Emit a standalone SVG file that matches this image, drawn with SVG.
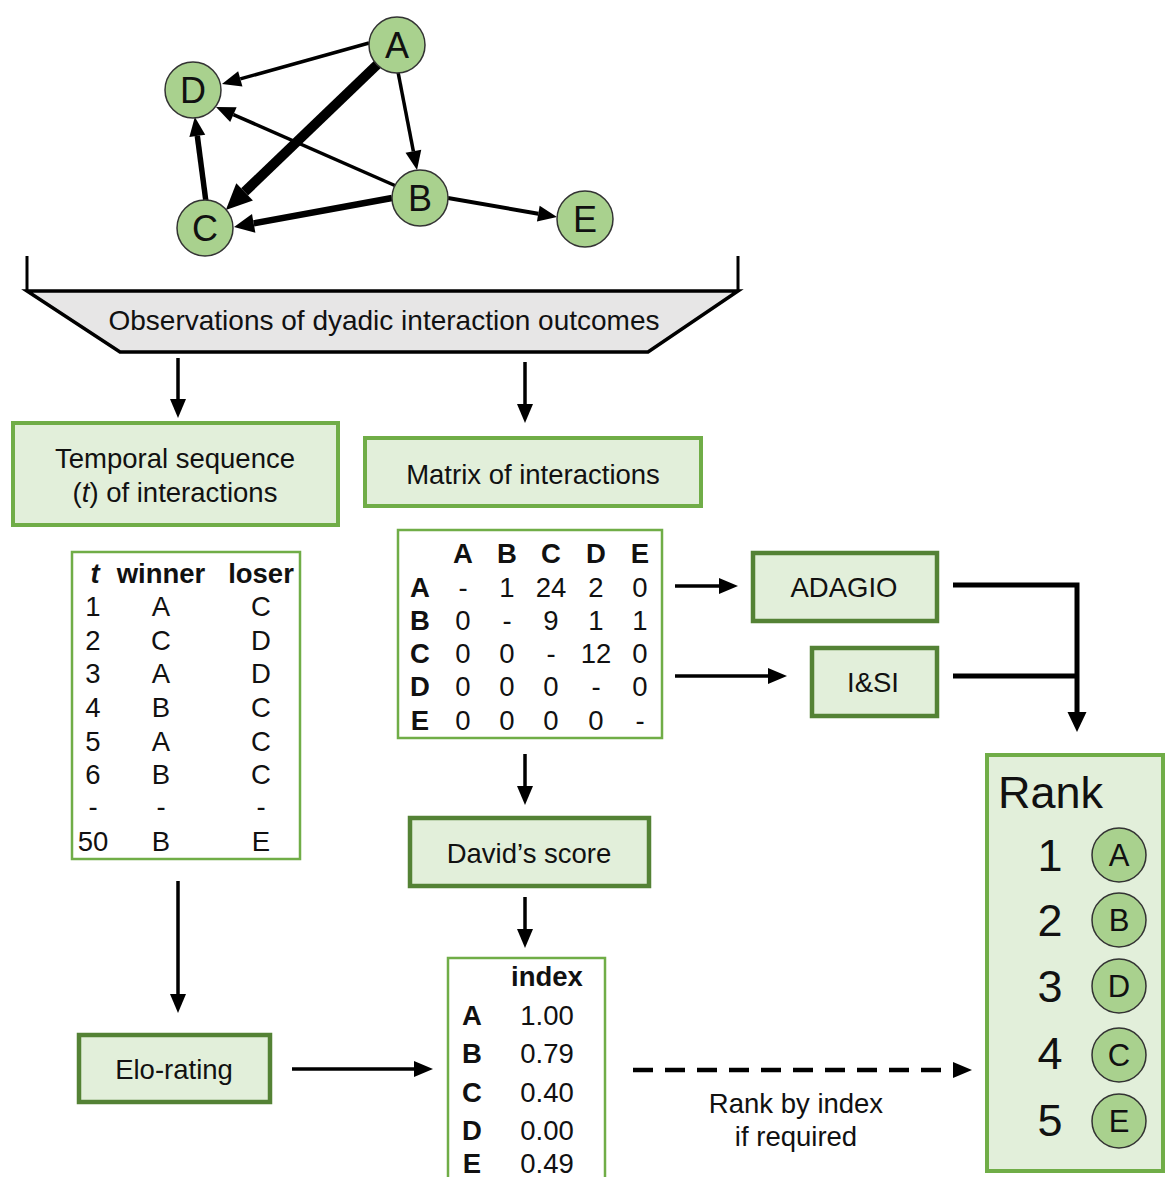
<svg xmlns="http://www.w3.org/2000/svg" width="1166" height="1177" viewBox="0 0 1166 1177">
  <style>
    text { font-family: "Liberation Sans", Arial, sans-serif; fill: #111; }
    .t { font-size: 27.5px; }
    .c { text-anchor: middle; }
    .b { font-weight: bold; }
    .node { fill: #a9d18e; stroke: #333; stroke-width: 1.5; }
    .gl { font-size: 36px; text-anchor: middle; }
    .box1 { fill: #e2efda; stroke: #70ad47; stroke-width: 4; }
    .box2 { fill: #e2efda; stroke: #548235; stroke-width: 4.5; }
    .tbl { fill: #fff; stroke: #70ad47; stroke-width: 2.5; }
    .ln { stroke: #000; fill: none; }
  </style>
  <defs>
    <marker id="h19" markerUnits="userSpaceOnUse" markerWidth="22" markerHeight="22" refX="0" refY="8" orient="auto" overflow="visible">
      <path d="M0,0 L19,8 L0,16 z" fill="#000"/>
    </marker>
    <marker id="h20" markerUnits="userSpaceOnUse" markerWidth="24" markerHeight="24" refX="0" refY="9.5" orient="auto" overflow="visible">
      <path d="M0,0 L20,9.5 L0,19 z" fill="#000"/>
    </marker>
    <marker id="h26" markerUnits="userSpaceOnUse" markerWidth="30" markerHeight="30" refX="0" refY="12" orient="auto" overflow="visible">
      <path d="M0,0 L26,12 L0,24 z" fill="#000"/>
    </marker>
  </defs>

  <!-- interaction network edges -->
  <g id="network-edges" class="ln">
    <line x1="369" y1="43" x2="240.3" y2="78.9" stroke-width="3.5" marker-end="url(#h19)"/>
    <line x1="382" y1="60" x2="244.6" y2="191.9" stroke-width="10" marker-end="url(#h26)"/>
    <line x1="398" y1="72" x2="413.4" y2="151.3" stroke-width="3.5" marker-end="url(#h19)"/>
    <line x1="396" y1="186" x2="233.4" y2="114.6" stroke-width="3.5" marker-end="url(#h19)"/>
    <line x1="206" y1="202" x2="197.3" y2="135.9" stroke-width="5.5" marker-end="url(#h19)"/>
    <line x1="392" y1="198" x2="253.7" y2="223.4" stroke-width="6.5" marker-end="url(#h20)"/>
    <line x1="448" y1="198" x2="538.3" y2="213.7" stroke-width="4" marker-end="url(#h19)"/>
  </g>

  <!-- network nodes -->
  <g id="net-A"><circle class="node" cx="397" cy="45" r="28"/><text class="gl" x="397" y="58">A</text></g>
  <g id="net-D"><circle class="node" cx="193" cy="90" r="28"/><text class="gl" x="193" y="103">D</text></g>
  <g id="net-C"><circle class="node" cx="205" cy="228" r="28"/><text class="gl" x="205" y="241">C</text></g>
  <g id="net-B"><circle class="node" cx="420" cy="198" r="28"/><text class="gl" x="420" y="211">B</text></g>
  <g id="net-E"><circle class="node" cx="585" cy="219" r="28"/><text class="gl" x="585" y="232">E</text></g>

  <!-- observations funnel -->
  <g id="observations">
    <line class="ln" x1="27" y1="256" x2="27" y2="292" stroke-width="3"/>
    <line class="ln" x1="738" y1="256" x2="738" y2="292" stroke-width="3"/>
    <polygon points="27,291 738,291 648,352 120,352" fill="#e7e6e6" stroke="#000" stroke-width="3.5" stroke-linejoin="miter"/>
    <text class="t c" x="384" y="330" style="font-size:28px">Observations of dyadic interaction outcomes</text>
  </g>

  <!-- flow connectors -->
  <g id="connectors" class="ln" stroke-width="3.5">
    <line x1="178" y1="358" x2="178" y2="399" marker-end="url(#h19)"/>
    <line x1="525" y1="362" x2="525" y2="404" marker-end="url(#h19)"/>
    <line x1="178" y1="881" x2="178" y2="994" marker-end="url(#h19)"/>
    <line x1="525" y1="754" x2="525" y2="786" marker-end="url(#h19)"/>
    <line x1="525" y1="897" x2="525" y2="929" marker-end="url(#h19)"/>
    <line x1="292" y1="1069" x2="414" y2="1069" marker-end="url(#h19)"/>
    <line x1="675" y1="586" x2="719" y2="586" marker-end="url(#h19)"/>
    <line x1="675" y1="676" x2="768" y2="676" marker-end="url(#h19)"/>
    <polyline points="953,585 1077,585 1077,712" stroke-width="5" marker-end="url(#h20)"/>
    <line x1="953" y1="676" x2="1077" y2="676" stroke-width="5"/>
    <line x1="633" y1="1070" x2="953" y2="1070" stroke-width="4.5" stroke-dasharray="20,12" marker-end="url(#h19)"/>
  </g>
  <g id="rank-note">
    <text class="t c" x="796" y="1113">Rank by index</text>
    <text class="t c" x="796" y="1146">if required</text>
  </g>

  <!-- temporal sequence -->
  <g id="temporal">
    <rect class="box1" x="13" y="423" width="325" height="102"/>
    <text class="t c" x="175" y="468">Temporal sequence</text>
    <text class="t c" x="175" y="502">(<tspan font-style="italic">t</tspan>) of interactions</text>
  </g>
  <g id="sequence-table">
    <rect class="tbl" x="72" y="552" width="228" height="307"/>
    <g class="t c">
      <text class="b" x="95" y="583" font-style="italic">t</text>
      <text class="b" x="161" y="583">winner</text>
      <text class="b" x="261" y="583">loser</text>
      <text x="93" y="616">1</text><text x="161" y="616">A</text><text x="261" y="616">C</text>
      <text x="93" y="650">2</text><text x="161" y="650">C</text><text x="261" y="650">D</text>
      <text x="93" y="683">3</text><text x="161" y="683">A</text><text x="261" y="683">D</text>
      <text x="93" y="717">4</text><text x="161" y="717">B</text><text x="261" y="717">C</text>
      <text x="93" y="751">5</text><text x="161" y="751">A</text><text x="261" y="751">C</text>
      <text x="93" y="784">6</text><text x="161" y="784">B</text><text x="261" y="784">C</text>
      <text x="93" y="816">-</text><text x="161" y="816">-</text><text x="261" y="816">-</text>
      <text x="93" y="851">50</text><text x="161" y="851">B</text><text x="261" y="851">E</text>
    </g>
  </g>

  <!-- matrix of interactions -->
  <g id="matrix">
    <rect class="box1" x="365" y="438" width="336" height="68"/>
    <text class="t c" x="533" y="484">Matrix of interactions</text>
  </g>
  <g id="matrix-table">
    <rect class="tbl" x="398" y="530" width="264" height="208"/>
    <g class="t c">
      <g class="b">
        <text x="463" y="563">A</text><text x="507" y="563">B</text><text x="551" y="563">C</text><text x="596" y="563">D</text><text x="640" y="563">E</text>
        <text x="420" y="597">A</text><text x="420" y="630">B</text><text x="420" y="663">C</text><text x="420" y="696">D</text><text x="420" y="730">E</text>
      </g>
      <text x="463" y="597">-</text><text x="507" y="597">1</text><text x="551" y="597">24</text><text x="596" y="597">2</text><text x="640" y="597">0</text>
      <text x="463" y="630">0</text><text x="507" y="630">-</text><text x="551" y="630">9</text><text x="596" y="630">1</text><text x="640" y="630">1</text>
      <text x="463" y="663">0</text><text x="507" y="663">0</text><text x="551" y="663">-</text><text x="596" y="663">12</text><text x="640" y="663">0</text>
      <text x="463" y="696">0</text><text x="507" y="696">0</text><text x="551" y="696">0</text><text x="596" y="696">-</text><text x="640" y="696">0</text>
      <text x="463" y="730">0</text><text x="507" y="730">0</text><text x="551" y="730">0</text><text x="596" y="730">0</text><text x="640" y="730">-</text>
    </g>
  </g>

  <!-- methods -->
  <g id="adagio">
    <rect class="box2" x="753" y="553" width="184" height="68"/>
    <text class="t c" x="844" y="597">ADAGIO</text>
  </g>
  <g id="isi">
    <rect class="box2" x="812" y="648" width="125" height="68"/>
    <text class="t c" x="873" y="692">I&amp;SI</text>
  </g>
  <g id="davids-score">
    <rect class="box2" x="410" y="818" width="239" height="68"/>
    <text class="t c" x="529" y="863">David’s score</text>
  </g>
  <g id="elo-rating">
    <rect class="box2" x="79" y="1035" width="191" height="67"/>
    <text class="t c" x="174" y="1079">Elo-rating</text>
  </g>

  <!-- index table -->
  <g id="index-table">
    <rect class="tbl" x="448" y="958" width="157" height="230"/>
    <g class="t c">
      <text class="b" x="547" y="986">index</text>
      <text class="b" x="472" y="1025">A</text><text x="547" y="1025">1.00</text>
      <text class="b" x="472" y="1063">B</text><text x="547" y="1063">0.79</text>
      <text class="b" x="472" y="1102">C</text><text x="547" y="1102">0.40</text>
      <text class="b" x="472" y="1140">D</text><text x="547" y="1140">0.00</text>
      <text class="b" x="472" y="1173">E</text><text x="547" y="1173">0.49</text>
    </g>
  </g>

  <!-- final rank -->
  <g id="rank">
    <rect class="box1" x="987" y="755" width="176" height="416"/>
    <text x="998" y="808" style="font-size:45px">Rank</text>
    <g style="font-size:45px" text-anchor="middle">
      <text x="1050" y="871">1</text>
      <text x="1050" y="936">2</text>
      <text x="1050" y="1002">3</text>
      <text x="1050" y="1069">4</text>
      <text x="1050" y="1136">5</text>
    </g>
    <g text-anchor="middle" style="font-size:31px">
      <circle class="node" cx="1119" cy="855" r="27"/><text x="1119" y="866">A</text>
      <circle class="node" cx="1119" cy="920" r="27"/><text x="1119" y="931">B</text>
      <circle class="node" cx="1119" cy="986" r="27"/><text x="1119" y="997">D</text>
      <circle class="node" cx="1119" cy="1055" r="27"/><text x="1119" y="1066">C</text>
      <circle class="node" cx="1119" cy="1121" r="27"/><text x="1119" y="1132">E</text>
    </g>
  </g>
</svg>
